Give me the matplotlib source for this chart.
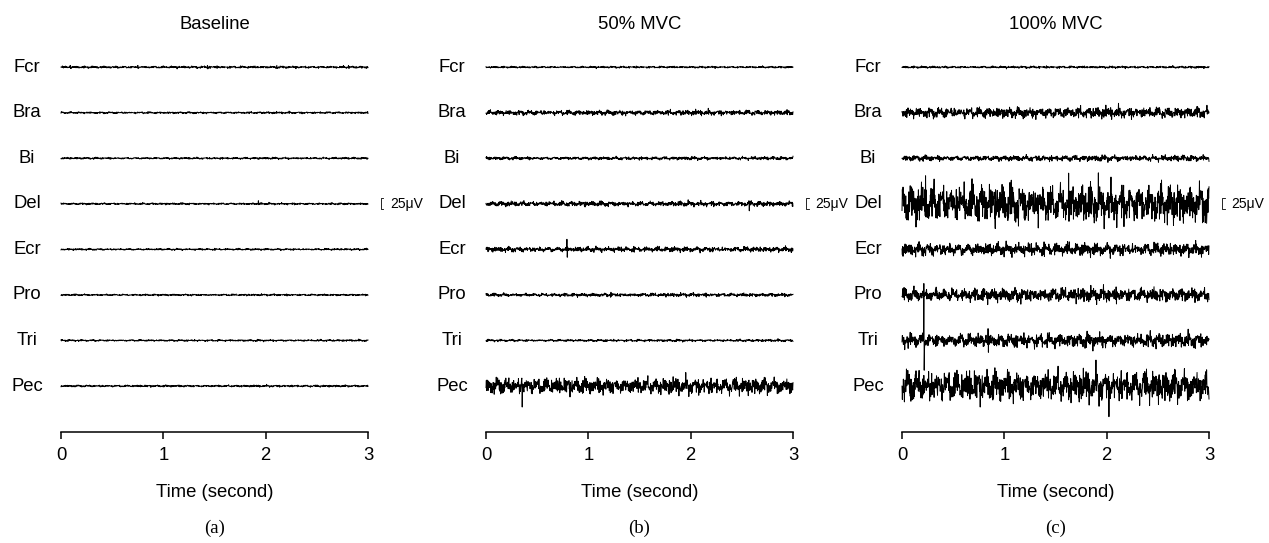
import numpy as np
import matplotlib
matplotlib.use("Agg")
import matplotlib.pyplot as plt

# ---- data ----
muscles = ["Fcr", "Bra", "Bi", "Del", "Ecr", "Pro", "Tri", "Pec"]
panel_titles = ["Baseline", "50% MVC", "100% MVC"]
panel_tags = ["(a)", "(b)", "(c)"]
time_ticks = [0, 1, 2, 3]

# envelope of each trace (uV)
baseline_amp = [3.5, 3.0, 3.0, 3.0, 2.8, 2.8, 2.8, 3.2]
mvc50_amp = [3.0, 8.0, 5.0, 8.0, 8.0, 5.5, 3.5, 26.0]
mvc100_amp = [3.5, 17.0, 9.0, 62.0, 20.0, 22.0, 22.0, 50.0]

# hand-typed EMG-like wave shapes (unitless), combined to give the noisy texture
wave_a = [0.2, -0.5, 0.35, -0.1, 0.6, -0.3, 0.1, -0.8, 0.4, -0.2, 0.15, -0.45, 0.3,
          1.0, -0.6, 0.25, -0.15, 0.5, -0.35, 0.05, -0.25, 0.45, -0.7, 0.3, -0.1,
          0.2, -0.4, 0.55, -0.2, 0.1, -0.9, 0.35, -0.05, 0.3, -0.5, 0.15, -0.3]
wave_b = [-0.3, 0.5, -0.1, 0.25, -0.6, 0.4, -0.2, 0.1, 0.7, -0.45, 0.2, -0.15, 0.35,
          -0.9, 0.3, -0.05, 0.45, -0.3, 0.15, -0.5, 0.6, -0.25, 0.05, -0.35, 0.8,
          -0.4, 0.2, -0.1, 0.3]
wave_c = [0.1, -0.2, 0.05, 0.4, -0.1, -0.3, 0.15, 0.0, -0.5, 0.25, 0.1, -0.05,
          0.3, -0.25, 0.6, -0.15, 0.05, -0.35, 0.2, -0.1, 0.45, -0.4, 0.15]

# isolated spikes: (panel, muscle, time s, up uV, down uV)
spikes = [
    (0, "Fcr", 0.09, 4, 3), (0, "Fcr", 0.75, 4, 3), (0, "Fcr", 1.43, 4, 4),
    (0, "Fcr", 2.11, 4, 3), (0, "Fcr", 2.81, 4, 3),
    (0, "Del", 1.93, 7, 2),
    (1, "Ecr", 0.79, 23, 18),
    (1, "Del", 2.57, 7, 16),
    (1, "Pec", 0.35, 18, 48),
    (1, "Pro", 1.22, 6, 3),
    (2, "Tri", 0.215, 130, 68),
    (2, "Tri", 0.84, 27, 27),
    (2, "Pec", 2.02, 22, 70),
    (2, "Del", 1.63, 70, 40),
    (2, "Del", 0.23, 64, 30),
]

n_samples = 900
row_gap = 104.0      # uV between traces
scale_bar = 25.0     # uV

amps = [baseline_amp, mvc50_amp, mvc100_amp]
t = np.linspace(0, 3, n_samples)
wa = np.array(wave_a)
wb = np.array(wave_b)
wc = np.array(wave_c)

W, H = 1269, 543
fig = plt.figure(figsize=(W / 100, H / 100), dpi=100)
font = "Liberation Sans"
fs = 13.3

ax_left = [61, 486, 902]
ax_w = 307
ax_top, ax_bot = 40, 432

for p in range(3):
    ax = fig.add_axes([ax_left[p] / W, 1 - ax_bot / H, ax_w / W, (ax_bot - ax_top) / H])
    ax.set_xlim(0, 3)
    ax.set_ylim(-105, 790)
    for k, m in enumerate(muscles):
        idx = np.arange(n_samples) + 11 * k + 17 * p
        sig = (0.6 * wa[idx % len(wa)] + 0.45 * wb[(idx * 2) % len(wb)]
               + 0.5 * wc[(idx * 3 + k) % len(wc)])
        y = sig * amps[p][k]
        for sp, sm, st, up, dn in spikes:
            if sp == p and sm == m:
                i = int(np.argmin(np.abs(t - st)))
                y[i] = up
                y[i + 1] = -dn
        base = (7 - k) * row_gap
        ax.plot(t, y + base, color="black", lw=0.7, clip_on=False)
        ax.text(-34 / ax_w * 3, base, m, ha="center", va="center",
                fontsize=fs, family=font)
    for s in ["top", "right", "left"]:
        ax.spines[s].set_visible(False)
    ax.spines["bottom"].set_linewidth(1.1)
    ax.set_yticks([])
    ax.set_xticks(time_ticks)
    ax.set_xticklabels([str(v) for v in time_ticks], fontsize=fs, family=font)
    ax.tick_params(axis="x", direction="out", length=5, width=1.1, pad=6)
    ax.set_title(panel_titles[p], fontsize=fs, family=font, pad=8)
    ax.set_xlabel("Time (second)", fontsize=fs, family=font, labelpad=14)

    # 25 uV scale bar next to the Del trace
    del_y = (7 - muscles.index("Del")) * row_gap
    bx = 3 + 13 / ax_w * 3
    tick = 2.5 / ax_w * 3
    ax.plot([bx + tick, bx, bx, bx + tick],
            [del_y + scale_bar / 2, del_y + scale_bar / 2,
             del_y - scale_bar / 2, del_y - scale_bar / 2],
            color="black", lw=0.6, clip_on=False)
    ax.text(bx + 9 / ax_w * 3, del_y, "25\u03bcV", ha="left", va="center",
            fontsize=10, family=font)

    fig.text((ax_left[p] + ax_w / 2) / W, 1 - 528 / H, panel_tags[p],
             ha="center", va="center", fontsize=13.5, family="Liberation Serif")

fig.savefig("out.png", dpi=100)
